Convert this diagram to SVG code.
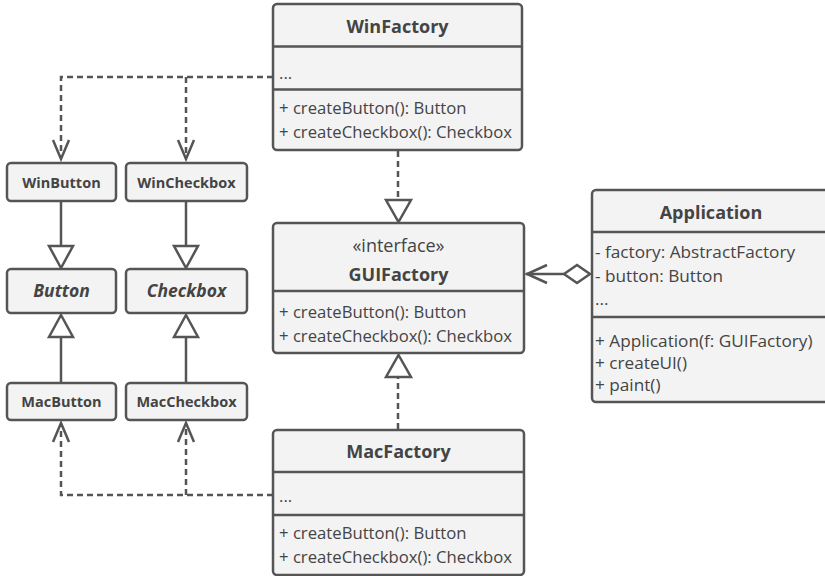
<svg xmlns="http://www.w3.org/2000/svg" width="825" height="576" viewBox="0 0 825 576">
<defs>
<style>
.box{fill:#f3f3f3;stroke:#555;stroke-width:2.5}
.div{stroke:#555;stroke-width:2.5}
.t{font-family:"Open Sans","DejaVu Sans",sans-serif;font-size:16.7px;fill:#444}
.a{font-size:17.2px}
.i{font-size:18px}
.b{font-family:"Open Sans","DejaVu Sans",sans-serif;font-weight:bold;fill:#444;text-anchor:middle}
.c{stroke:#555;stroke-width:2.5;fill:none}
.d{stroke:#555;stroke-width:2.5;fill:none;stroke-dasharray:6 4}
.tri{fill:#fff;stroke:#555;stroke-width:2.5}
</style>
</defs>
<rect width="825" height="576" fill="#fff"/>
<g id="connectors">
  <path class="d" d="M273 77 H61 V158"/>
  <path class="d" d="M186 77 V158"/>
  <path class="c" d="M53 140 L61 159 L69 140"/>
  <path class="c" d="M178 140 L186 159 L194 140"/>
  <path class="d" d="M273 495 H61 V424"/>
  <path class="d" d="M186 495 V424"/>
  <path class="c" d="M53 442 L61 423 L69 442"/>
  <path class="c" d="M178 442 L186 423 L194 442"/>
  <path class="c" d="M61 201 V246"/>
  <path class="c" d="M186 201 V246"/>
  <path class="tri" d="M49 246 H73 L61 268 Z"/>
  <path class="tri" d="M174 246 H198 L186 268 Z"/>
  <path class="c" d="M61 383 V337"/>
  <path class="c" d="M186 383 V337"/>
  <path class="tri" d="M49 337 H73 L61 315 Z"/>
  <path class="tri" d="M174 337 H198 L186 315 Z"/>
  <path class="d" d="M398 151 V200"/>
  <path class="tri" d="M386 200 H411 L398.5 222 Z"/>
  <path class="d" d="M398 429 V378"/>
  <path class="tri" d="M386 377 H411 L398.5 355 Z"/>
  <path class="c" d="M526 274 H564"/>
  <path class="c" d="M547 265 L527 274 L547 283"/>
  <path d="M564 274 L577 265 L590 274 L577 283 Z" fill="#fff" stroke="#555" stroke-width="2.5"/>
</g>
<g id="WinFactory">
  <rect class="box" x="273" y="4" width="249" height="146" rx="4"/>
  <line class="div" x1="273" y1="46.5" x2="522" y2="46.5"/>
  <line class="div" x1="273" y1="89.5" x2="522" y2="89.5"/>
  <text class="b" x="397.5" y="33" font-size="18">WinFactory</text>
  <text class="t" x="279" y="79">...</text>
  <text class="t" x="279" y="114">+ createButton(): Button</text>
  <text class="t" x="279" y="138">+ createCheckbox(): Checkbox</text>
</g>
<g id="GUIFactory">
  <rect class="box" x="273" y="223" width="251" height="130" rx="4"/>
  <line class="div" x1="273" y1="291" x2="524" y2="291"/>
  <text class="t i" x="398.5" y="252" text-anchor="middle">«interface»</text>
  <text class="b" x="398.5" y="281" font-size="18">GUIFactory</text>
  <text class="t" x="279" y="318">+ createButton(): Button</text>
  <text class="t" x="279" y="342">+ createCheckbox(): Checkbox</text>
</g>
<g id="MacFactory">
  <rect class="box" x="273" y="430" width="251" height="145" rx="4"/>
  <line class="div" x1="273" y1="472" x2="524" y2="472"/>
  <line class="div" x1="273" y1="515" x2="524" y2="515"/>
  <text class="b" x="398.5" y="458" font-size="18">MacFactory</text>
  <text class="t" x="279" y="502">...</text>
  <text class="t" x="279" y="539">+ createButton(): Button</text>
  <text class="t" x="279" y="563">+ createCheckbox(): Checkbox</text>
</g>
<g id="Application">
  <rect class="box" x="592" y="190" width="238" height="212" rx="4"/>
  <line class="div" x1="592" y1="232" x2="830" y2="232"/>
  <line class="div" x1="592" y1="317" x2="830" y2="317"/>
  <text class="b" x="711" y="219" font-size="18">Application</text>
  <text class="t a" x="595" y="258">- factory: AbstractFactory</text>
  <text class="t a" x="595" y="282">- button: Button</text>
  <text class="t a" x="595" y="305">...</text>
  <text class="t a" x="595" y="347">+ Application(f: GUIFactory)</text>
  <text class="t a" x="595" y="369">+ createUI()</text>
  <text class="t a" x="595" y="391">+ paint()</text>
</g>
<g id="WinButton">
  <rect class="box" x="7" y="163" width="109" height="38" rx="4"/>
  <text class="b" x="61.5" y="187.5" font-size="14.5">WinButton</text>
</g>
<g id="WinCheckbox">
  <rect class="box" x="126" y="163" width="121" height="38" rx="4"/>
  <text class="b" x="186.5" y="187.5" font-size="14.5">WinCheckbox</text>
</g>
<g id="Button">
  <rect class="box" x="7" y="269" width="109" height="44" rx="4"/>
  <text class="b" x="61.5" y="297" font-size="17.5" font-style="italic">Button</text>
</g>
<g id="Checkbox">
  <rect class="box" x="126" y="269" width="121" height="44" rx="4"/>
  <text class="b" x="186.5" y="297" font-size="17.5" font-style="italic">Checkbox</text>
</g>
<g id="MacButton">
  <rect class="box" x="7" y="383" width="109" height="37" rx="4"/>
  <text class="b" x="61.5" y="407" font-size="14.5">MacButton</text>
</g>
<g id="MacCheckbox">
  <rect class="box" x="126" y="383" width="121" height="37" rx="4"/>
  <text class="b" x="186.5" y="407" font-size="14.5">MacCheckbox</text>
</g>
</svg>
